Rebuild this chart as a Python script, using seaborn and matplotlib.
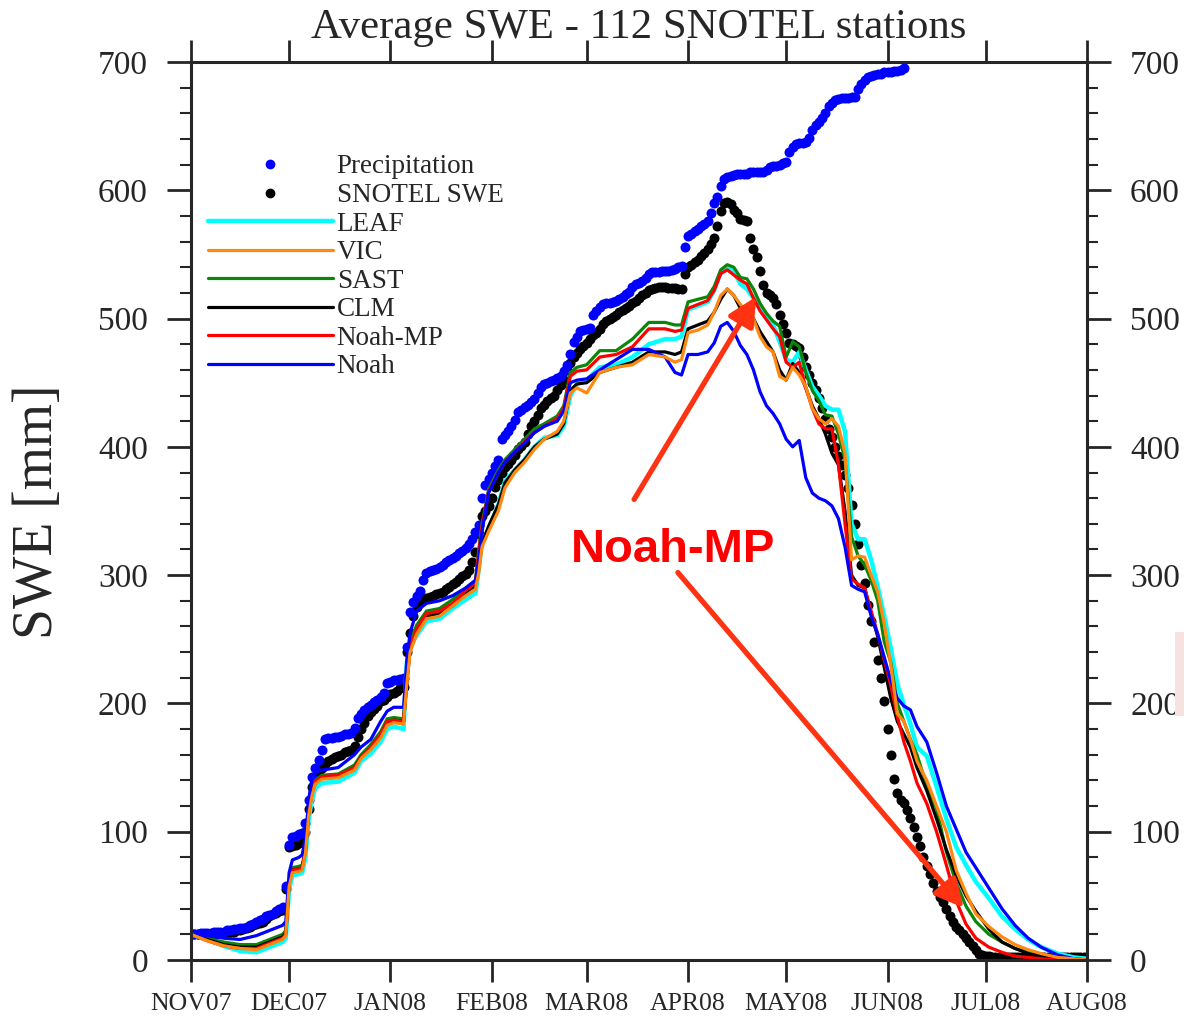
import numpy as np
import pandas as pd
import seaborn as sns
import matplotlib
matplotlib.use("Agg")
import matplotlib.pyplot as plt
from matplotlib.lines import Line2D
from matplotlib.patches import Rectangle
from matplotlib.ticker import MultipleLocator
import matplotlib.patheffects as pe

# ---------------- data ----------------
month_days = [0, 30, 61, 92, 121, 152, 182, 213, 243, 274]
month_labels = ["NOV07", "DEC07", "JAN08", "FEB08", "MAR08", "APR08",
                "MAY08", "JUN08", "JUL08", "AUG08"]

# daily accumulated precipitation (day 0 = 1 Nov 2007)
precip = [
    20, 20, 20, 21, 21, 21, 21, 22, 22, 22, 22, 23, 23, 24, 24, 25, 25, 26, 27, 28,
    30, 31, 32, 34, 35, 36, 38, 40, 41, 58,
    90, 96, 97, 98, 99, 107, 125, 143, 150, 156, 164, 172, 173, 173, 174, 174, 175, 176, 176, 177,
    181, 189, 192, 195, 197, 199, 201, 203, 205, 208, 216,
    217, 218, 218, 219, 220, 244, 271, 279, 284, 288, 296, 302, 303, 304, 305, 306, 308, 310, 312, 313,
    315, 317, 319, 321, 324, 328, 334, 339, 360, 370, 375,
    380, 385, 390, 406, 409, 412, 416, 421, 427, 429, 431, 433, 435, 437, 442, 447, 449, 450, 451, 452,
    454, 455, 459, 464, 472, 482, 486, 490, 491,
    492, 493, 503, 506, 509, 511, 512, 512, 513, 514, 515, 517, 519, 521, 525, 527, 528, 529, 532, 535,
    536, 536, 536, 537, 537, 537, 538, 539, 540, 541, 556,
    564, 566, 568, 570, 572, 574, 576, 582, 590, 595, 603, 609, 610, 611, 612, 613, 613, 613, 613, 614,
    614, 614, 614, 614, 616, 618, 619, 619, 620, 621,
    622, 630, 634, 636, 637, 637, 638, 641, 647, 651, 653, 656, 660, 666, 668, 670, 671, 672, 672, 672,
    673, 673, 679, 683, 686, 688, 689, 690, 691, 691, 692,
    692, 692, 693, 693, 694, 695,
]

# daily observed SNOTEL SWE
snotel = [
    20, 20, 20, 20, 20, 20, 20, 20, 21, 21, 21, 22, 22, 22, 23, 23, 24, 25, 26, 27,
    28, 29, 30, 32, 34, 36, 37, 38, 39, 55,
    88, 89, 90, 91, 92, 100, 118, 135, 142, 147, 150, 153, 155, 157, 158, 159, 160, 162, 163, 164,
    167, 174, 180, 185, 190, 193, 196, 198, 202, 203, 205,
    207, 208, 210, 212, 213, 240, 255, 268, 275, 281, 281, 282, 283, 284, 285, 286, 287, 289, 291, 293,
    295, 297, 299, 301, 304, 310, 318, 332, 346, 350, 354,
    360, 369, 374, 380, 384, 387, 390, 394, 398, 401, 404, 410, 416, 420, 425, 430, 433, 436, 438, 440,
    444, 448, 452, 460, 465, 470, 473, 476, 479,
    481, 484, 487, 489, 492, 496, 498, 500, 501, 503, 505, 507, 508, 510, 512, 514, 516, 518, 520, 522,
    523, 524, 525, 525, 525, 524, 524, 524, 523, 523, 535,
    540, 542, 544, 546, 549, 551, 554, 558, 563, 572, 584, 590, 591, 589, 585, 582, 578, 577, 576, 563,
    554, 548, 537, 526, 520, 518, 516, 511, 503, 496,
    489, 481, 480, 479, 477, 470, 462, 456, 450, 444, 438, 430, 422, 414, 408, 400, 393, 386, 378, 368,
    355, 340, 324, 308, 294, 277, 264, 248, 234, 220, 202,
    180, 160, 141, 130, 125, 122, 117, 111, 104, 96, 89, 80, 73, 67, 60, 54, 49, 45, 40, 34,
    30, 26, 23, 20, 17, 14, 11, 8, 5, 4,
    3, 3, 2, 2, 2, 2, 2, 2, 2, 2, 2, 2, 2, 2, 2, 2, 2, 2, 2, 2,
    2, 2, 2, 2, 2, 2, 2, 2, 2, 2, 2,
    2,
]

model_days = [
    0, 5, 10, 15, 20, 25, 28, 29, 30, 31,
    33, 34, 35, 36, 37, 38, 40, 45, 50, 52,
    55, 58, 60, 62, 65, 66, 67, 69, 72, 76,
    80, 84, 87, 88, 89, 91, 94, 96, 99, 102,
    105, 108, 112, 114, 116, 118, 121, 125, 130, 135,
    140, 145, 148, 150, 152, 155, 158, 160, 162, 164,
    166, 168, 170, 172, 174, 176, 178, 180, 182, 184,
    186, 188, 190, 192, 194, 196, 198, 200, 202, 204,
    206, 208, 210, 212, 214, 216, 218, 220, 222, 225,
    228, 231, 234, 237, 240, 244, 248, 252, 256, 260,
    265, 270, 274,
]

leaf = [
    20, 16, 11, 7, 6, 11, 14, 17, 55, 66,
    67, 68, 80, 110, 125, 134, 138, 139, 146, 155,
    161, 170, 180, 182, 180, 232, 244, 253, 264, 266,
    274, 281, 286, 305, 326, 336, 355, 373, 382, 390,
    400, 407, 409, 416, 440, 449, 452, 462, 464, 470,
    480, 484, 484, 486, 507, 510, 513, 522, 536, 541,
    537, 527, 523, 516, 509, 503, 495, 482, 468, 466,
    474, 460, 447, 440, 432, 429, 429, 412, 340, 328,
    328, 312, 291, 268, 243, 215, 199, 184, 166, 159,
    135, 110, 88, 74, 61, 48, 34, 24, 16, 10,
    5, 2, 1,
]
vic = [
    20, 15, 11, 9, 8, 13, 16, 19, 57, 68,
    69, 70, 83, 113, 128, 137, 141, 142, 148, 157,
    164, 173, 183, 185, 184, 215, 240, 254, 266, 268,
    276, 284, 289, 302, 322, 334, 350, 368, 380, 388,
    398, 406, 412, 420, 442, 446, 442, 458, 462, 464,
    472, 470, 466, 468, 489, 491, 495, 505, 518, 523,
    518, 511, 505, 500, 486, 478, 474, 455, 452, 462,
    456, 447, 430, 422, 418, 422, 416, 395, 312, 315,
    314, 300, 287, 262, 230, 192, 186, 172, 155, 140,
    120, 100, 70, 52, 36, 26, 18, 12, 8, 5,
    2, 1, 0,
]
sast = [
    20, 17, 14, 12, 12, 17, 20, 23, 62, 72,
    73, 74, 86, 116, 132, 140, 144, 145, 152, 160,
    168, 178, 188, 189, 188, 222, 248, 261, 272, 274,
    281, 290, 296, 320, 340, 367, 382, 390, 398, 406,
    414, 418, 424, 432, 458, 462, 464, 475, 475, 484,
    497, 497, 495, 495, 513, 515, 517, 525, 538, 542,
    540, 532, 531, 523, 512, 504, 498, 494, 470, 482,
    478, 458, 444, 436, 425, 424, 410, 390, 330, 315,
    308, 296, 280, 248, 232, 200, 186, 172, 160, 136,
    118, 84, 60, 42, 30, 20, 14, 9, 6, 4,
    2, 1, 0,
]
clm = [
    20, 16, 12, 10, 10, 15, 18, 21, 60, 70,
    71, 72, 85, 115, 130, 138, 142, 143, 150, 158,
    165, 175, 185, 187, 186, 216, 242, 256, 268, 270,
    276, 286, 292, 305, 325, 338, 355, 372, 382, 390,
    400, 406, 410, 418, 444, 449, 450, 458, 462, 466,
    474, 474, 472, 474, 492, 495, 498, 505, 515, 523,
    518, 508, 504, 500, 490, 482, 474, 460, 452, 465,
    458, 446, 432, 422, 410, 395, 386, 350, 300, 292,
    290, 270, 252, 228, 204, 186, 176, 166, 150, 132,
    110, 86, 66, 50, 38, 24, 14, 9, 5, 3,
    1, 0, 0,
]
noahmp = [
    20, 15, 11, 9, 9, 14, 17, 20, 60, 70,
    71, 72, 85, 115, 130, 139, 143, 144, 150, 158,
    166, 176, 186, 187, 186, 218, 244, 258, 270, 272,
    278, 288, 294, 318, 338, 365, 380, 388, 396, 404,
    411, 416, 422, 430, 455, 459, 460, 470, 472, 478,
    492, 492, 490, 491, 508, 511, 514, 522, 535, 538,
    534, 530, 527, 516, 506, 499, 492, 486, 466, 462,
    466, 446, 430, 418, 414, 414, 386, 340, 297, 293,
    290, 272, 254, 234, 214, 190, 170, 155, 138, 122,
    100, 74, 46, 28, 17, 10, 6, 3, 2, 1,
    0, 0, 0,
]
noah = [
    20, 19, 17, 16, 19, 24, 27, 30, 68, 78,
    80, 82, 95, 125, 142, 146, 148, 150, 160, 166,
    172, 186, 194, 197, 197, 234, 255, 272, 278, 280,
    284, 290, 296, 312, 334, 364, 380, 388, 396, 403,
    411, 416, 420, 428, 450, 452, 453, 460, 468, 476,
    476, 470, 458, 456, 472, 472, 474, 481, 494, 497,
    490, 479, 472, 460, 443, 432, 426, 418, 406, 400,
    405, 376, 364, 360, 358, 354, 344, 322, 292, 289,
    287, 268, 254, 236, 218, 204, 198, 195, 182, 170,
    146, 120, 102, 84, 72, 56, 40, 27, 17, 10,
    4, 1, 0,
]

model_names = ["LEAF", "VIC", "SAST", "CLM", "Noah-MP", "Noah"]
model_values = [leaf, vic, sast, clm, noahmp, noah]
model_colors = ["#00ffff", "#ff8811", "#0a870a", "#000000", "#ff0000", "#0000ff"]

# ---------------- figure ----------------
sns.set_style("ticks")
plt.rcParams["font.family"] = ["Liberation Serif", "DejaVu Serif"]

fig = plt.figure(figsize=(11.84, 10.21), dpi=100)
ax = fig.add_axes([191 / 1184, 1 - 960 / 1021, (1087 - 191) / 1184, (960 - 62) / 1021])

precip_df = pd.DataFrame({"day": np.arange(len(precip)), "swe": precip})
snotel_df = pd.DataFrame({"day": np.arange(len(snotel)), "swe": snotel})

sns.scatterplot(data=snotel_df, x="day", y="swe", ax=ax, color="black", s=52,
                linewidth=0, zorder=1.5, legend=False)
sns.scatterplot(data=precip_df, x="day", y="swe", ax=ax, color="#0000ff", s=52,
                linewidth=0, zorder=1.6, legend=False)

model_df = pd.concat([
    pd.DataFrame({"day": model_days, "swe": vals, "model": name})
    for name, vals in zip(model_names, model_values)
])
widths = {"LEAF": 3.2, "VIC": 2.3, "SAST": 2.3, "CLM": 2.3, "Noah-MP": 2.3, "Noah": 2.3}
zorders = {"LEAF": 2.0, "SAST": 2.1, "CLM": 2.2, "Noah-MP": 2.3, "Noah": 2.4, "VIC": 2.5}
for name, col in zip(model_names, model_colors):
    sub = model_df[model_df["model"] == name]
    sns.lineplot(data=sub, x="day", y="swe", ax=ax, color=col, lw=widths[name],
                 zorder=zorders[name], estimator=None, sort=False, legend=False)

ax.set_xlim(0, 274)
ax.set_ylim(0, 700)
ax.set_xlabel("")
ax.set_ylabel("")

ax.set_xticks(month_days)
ax.set_xticklabels(month_labels)
ax.yaxis.set_major_locator(MultipleLocator(100))
ax.yaxis.set_minor_locator(MultipleLocator(20))

for sp in ax.spines.values():
    sp.set_linewidth(2.2)
    sp.set_visible(True)

ax.tick_params(axis="x", which="major", direction="out", length=16, width=2.0,
               top=True, bottom=True, labeltop=False, labelbottom=True,
               labelsize=18.5, pad=8)
ax.tick_params(axis="x", which="minor", bottom=False, top=False)
ax.tick_params(axis="y", which="major", direction="out", length=17, width=2.0,
               left=True, right=True, labelleft=True, labelright=True,
               labelsize=24, pad=14)
ax.tick_params(axis="y", which="minor", direction="out", length=8, width=1.5,
               left=True, right=True)

# legend
handles = [
    Line2D([], [], ls="none", marker="o", color="#0000ff", markersize=6),
    Line2D([], [], ls="none", marker="o", color="black", markersize=6),
] + [Line2D([], [], color=c, lw=(3.2 if n == "LEAF" else 2.3))
     for n, c in zip(model_names, model_colors)]
labels = ["Precipitation", "SNOTEL SWE"] + model_names
leg = ax.legend(handles, labels, loc="upper left", bbox_to_anchor=(0.019, 0.897),
                frameon=False, fontsize=19.5, handlelength=4.6, handletextpad=0.15,
                labelspacing=0.13, borderpad=0, borderaxespad=0)

# annotation
ax.text(147.4, 310, "Noah-MP", color="#ff0000", fontsize=34, fontweight="bold",
        family=["Liberation Sans", "DejaVu Sans"], ha="center", va="baseline", zorder=5)
shadow = [pe.SimplePatchShadow(offset=(2, -2), alpha=0.25), pe.Normal()]
for tail, tip in [((135.5, 359), (172.8, 517)), ((148.9, 302), (236.3, 40.6))]:
    ax.annotate("", xy=tip, xytext=tail, zorder=6,
                arrowprops=dict(arrowstyle="-|>,head_length=1.0,head_width=0.5",
                                color="#ff3311", lw=3.8, shrinkA=0, shrinkB=0,
                                mutation_scale=17, path_effects=shadow))

fig.text(639 / 1184, 1 - 38 / 1021, "Average SWE - 112 SNOTEL stations",
         ha="center", va="baseline", fontsize=30.8)
fig.text(38 / 1184, 1 - 512 / 1021, "SWE [mm]", rotation=90, ha="center",
         va="center", fontsize=40)

fig.add_artist(Rectangle((1175 / 1184, 1 - 716 / 1021), 9 / 1184, 84 / 1021,
                         transform=fig.transFigure, facecolor="#f7e2e2",
                         edgecolor="none", zorder=10))

fig.savefig("out.png", dpi=100)
